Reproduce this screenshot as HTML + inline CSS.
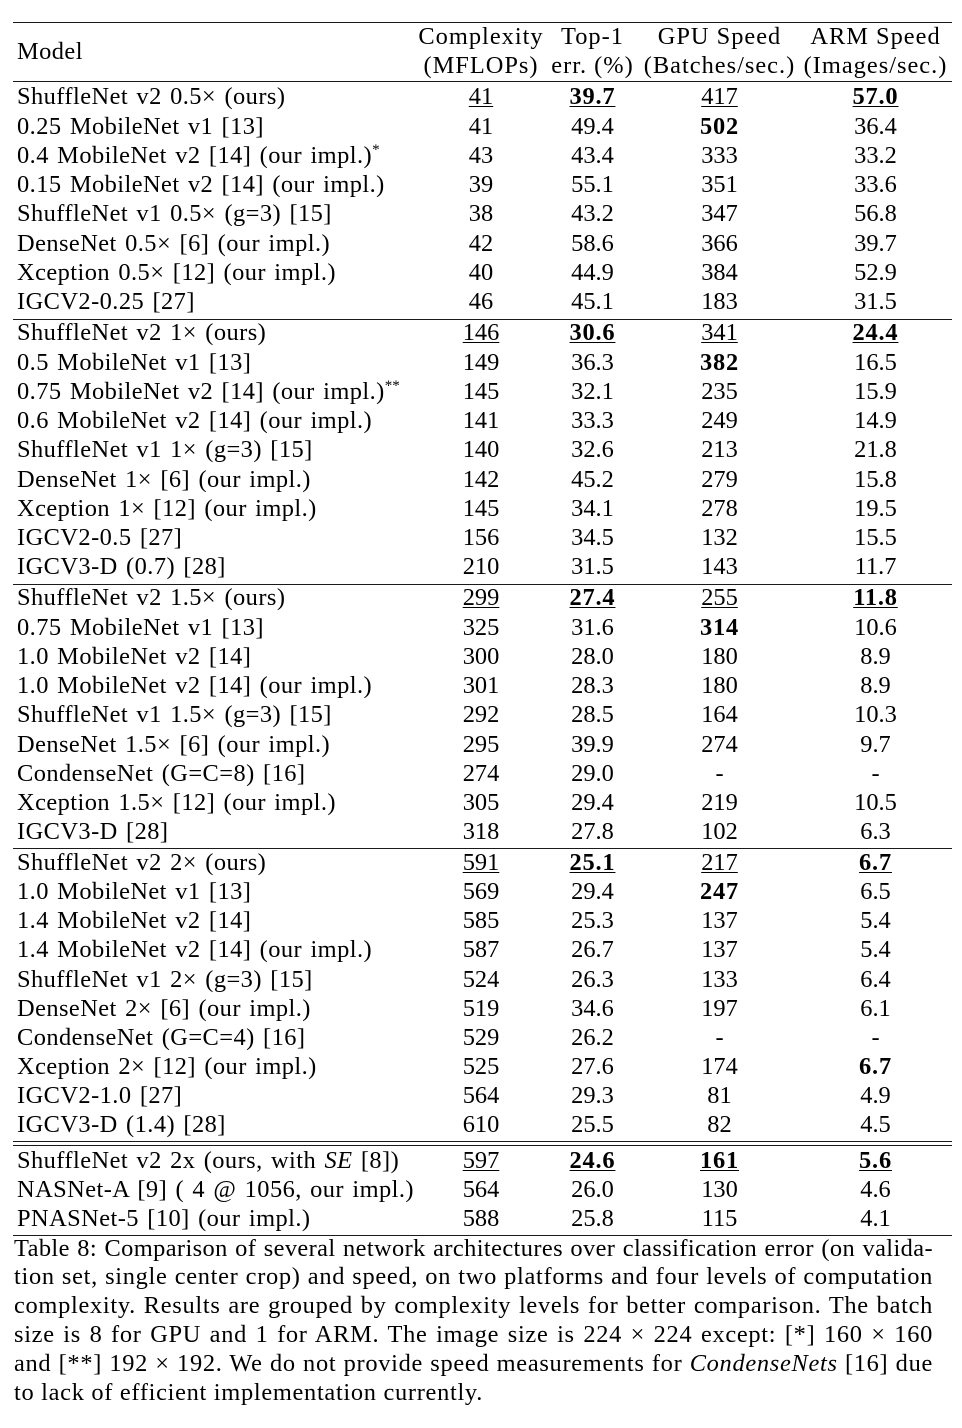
<!DOCTYPE html>
<html>
<head>
<meta charset="utf-8">
<style>
html,body{margin:0;padding:0;background:#fff;}
#p{position:relative;width:962px;height:1428px;overflow:hidden;background:#fff;color:#000;
  font-family:"Liberation Serif","DejaVu Serif",serif;font-size:24.4px;}
.rule{position:absolute;left:13px;width:939px;background:#1a1a1a;}
.r{position:absolute;left:0;width:962px;height:29.25px;line-height:29.25px;white-space:nowrap;}
.m{position:absolute;left:17px;letter-spacing:.45px;word-spacing:1.8px;}
.c{position:absolute;width:130px;text-align:center;}
.c1{left:416px}.c2{left:527.5px}.c3{left:654.5px}.c4{left:810.5px}
.h .c{letter-spacing:1px;}
.u{text-decoration:underline;text-decoration-thickness:1px;text-underline-offset:2px;}
b{font-weight:bold;letter-spacing:.8px;}
.sup{position:relative;top:-9px;font-size:15px;letter-spacing:0;}
.cap{position:absolute;left:14px;width:919px;height:28.8px;line-height:28.8px;text-align:justify;text-align-last:justify;letter-spacing:.7px;}
.last{text-align:left;text-align-last:left;word-spacing:0;}
</style>
</head>
<body>
<div id="p">
<!-- rules -->
<div class="rule" style="top:21.8px;height:1.4px"></div>
<div class="rule" style="top:81px;height:1px"></div>
<div class="rule" style="top:318.8px;height:1px"></div>
<div class="rule" style="top:584px;height:1px"></div>
<div class="rule" style="top:848px;height:1px"></div>
<div class="rule" style="top:1140.6px;height:1px"></div>
<div class="rule" style="top:1144.8px;height:1px"></div>
<div class="rule" style="top:1235px;height:1.3px"></div>

<!-- header -->
<div class="r" style="top:36.9px"><span class="m">Model</span></div>
<div class="r h" style="top:22.4px"><span class="c c1">Complexity</span><span class="c c2">Top-1</span><span class="c c3" style="width:170px;left:634.5px">GPU Speed</span><span class="c c4" style="width:170px;left:790.5px">ARM Speed</span></div>
<div class="r h" style="top:51.4px"><span class="c c1">(MFLOPs)</span><span class="c c2">err. (%)</span><span class="c c3" style="width:170px;left:634.5px">(Batches/sec.)</span><span class="c c4" style="width:170px;left:790.5px">(Images/sec.)</span></div>

<!-- group 1 -->
<div class="r" style="top:82.4px"><span class="m">ShuffleNet v2 0.5× (ours)</span><span class="c c1"><span class="u">41</span></span><span class="c c2"><b class="u">39.7</b></span><span class="c c3"><span class="u">417</span></span><span class="c c4"><b class="u">57.0</b></span></div>
<div class="r" style="top:111.6px"><span class="m">0.25 MobileNet v1 [13]</span><span class="c c1">41</span><span class="c c2">49.4</span><span class="c c3"><b>502</b></span><span class="c c4">36.4</span></div>
<div class="r" style="top:140.9px"><span class="m">0.4 MobileNet v2 [14] (our impl.)<span class="sup">*</span></span><span class="c c1">43</span><span class="c c2">43.4</span><span class="c c3">333</span><span class="c c4">33.2</span></div>
<div class="r" style="top:170.1px"><span class="m">0.15 MobileNet v2 [14] (our impl.)</span><span class="c c1">39</span><span class="c c2">55.1</span><span class="c c3">351</span><span class="c c4">33.6</span></div>
<div class="r" style="top:199.4px"><span class="m">ShuffleNet v1 0.5× (g=3) [15]</span><span class="c c1">38</span><span class="c c2">43.2</span><span class="c c3">347</span><span class="c c4">56.8</span></div>
<div class="r" style="top:228.6px"><span class="m">DenseNet 0.5× [6] (our impl.)</span><span class="c c1">42</span><span class="c c2">58.6</span><span class="c c3">366</span><span class="c c4">39.7</span></div>
<div class="r" style="top:257.9px"><span class="m">Xception 0.5× [12] (our impl.)</span><span class="c c1">40</span><span class="c c2">44.9</span><span class="c c3">384</span><span class="c c4">52.9</span></div>
<div class="r" style="top:287.1px"><span class="m">IGCV2-0.25 [27]</span><span class="c c1">46</span><span class="c c2">45.1</span><span class="c c3">183</span><span class="c c4">31.5</span></div>

<!-- group 2 -->
<div class="r" style="top:318.4px"><span class="m">ShuffleNet v2 1× (ours)</span><span class="c c1"><span class="u">146</span></span><span class="c c2"><b class="u">30.6</b></span><span class="c c3"><span class="u">341</span></span><span class="c c4"><b class="u">24.4</b></span></div>
<div class="r" style="top:347.6px"><span class="m">0.5 MobileNet v1 [13]</span><span class="c c1">149</span><span class="c c2">36.3</span><span class="c c3"><b>382</b></span><span class="c c4">16.5</span></div>
<div class="r" style="top:376.9px"><span class="m">0.75 MobileNet v2 [14] (our impl.)<span class="sup">**</span></span><span class="c c1">145</span><span class="c c2">32.1</span><span class="c c3">235</span><span class="c c4">15.9</span></div>
<div class="r" style="top:406.1px"><span class="m">0.6 MobileNet v2 [14] (our impl.)</span><span class="c c1">141</span><span class="c c2">33.3</span><span class="c c3">249</span><span class="c c4">14.9</span></div>
<div class="r" style="top:435.4px"><span class="m">ShuffleNet v1 1× (g=3) [15]</span><span class="c c1">140</span><span class="c c2">32.6</span><span class="c c3">213</span><span class="c c4">21.8</span></div>
<div class="r" style="top:464.6px"><span class="m">DenseNet 1× [6] (our impl.)</span><span class="c c1">142</span><span class="c c2">45.2</span><span class="c c3">279</span><span class="c c4">15.8</span></div>
<div class="r" style="top:493.9px"><span class="m">Xception 1× [12] (our impl.)</span><span class="c c1">145</span><span class="c c2">34.1</span><span class="c c3">278</span><span class="c c4">19.5</span></div>
<div class="r" style="top:523.1px"><span class="m">IGCV2-0.5 [27]</span><span class="c c1">156</span><span class="c c2">34.5</span><span class="c c3">132</span><span class="c c4">15.5</span></div>
<div class="r" style="top:552.4px"><span class="m">IGCV3-D (0.7) [28]</span><span class="c c1">210</span><span class="c c2">31.5</span><span class="c c3">143</span><span class="c c4">11.7</span></div>

<!-- group 3 -->
<div class="r" style="top:583.4px"><span class="m">ShuffleNet v2 1.5× (ours)</span><span class="c c1"><span class="u">299</span></span><span class="c c2"><b class="u">27.4</b></span><span class="c c3"><span class="u">255</span></span><span class="c c4"><b class="u">11.8</b></span></div>
<div class="r" style="top:612.6px"><span class="m">0.75 MobileNet v1 [13]</span><span class="c c1">325</span><span class="c c2">31.6</span><span class="c c3"><b>314</b></span><span class="c c4">10.6</span></div>
<div class="r" style="top:641.9px"><span class="m">1.0 MobileNet v2 [14]</span><span class="c c1">300</span><span class="c c2">28.0</span><span class="c c3">180</span><span class="c c4">8.9</span></div>
<div class="r" style="top:671.1px"><span class="m">1.0 MobileNet v2 [14] (our impl.)</span><span class="c c1">301</span><span class="c c2">28.3</span><span class="c c3">180</span><span class="c c4">8.9</span></div>
<div class="r" style="top:700.4px"><span class="m">ShuffleNet v1 1.5× (g=3) [15]</span><span class="c c1">292</span><span class="c c2">28.5</span><span class="c c3">164</span><span class="c c4">10.3</span></div>
<div class="r" style="top:729.6px"><span class="m">DenseNet 1.5× [6] (our impl.)</span><span class="c c1">295</span><span class="c c2">39.9</span><span class="c c3">274</span><span class="c c4">9.7</span></div>
<div class="r" style="top:758.9px"><span class="m">CondenseNet (G=C=8) [16]</span><span class="c c1">274</span><span class="c c2">29.0</span><span class="c c3">-</span><span class="c c4">-</span></div>
<div class="r" style="top:788.1px"><span class="m">Xception 1.5× [12] (our impl.)</span><span class="c c1">305</span><span class="c c2">29.4</span><span class="c c3">219</span><span class="c c4">10.5</span></div>
<div class="r" style="top:817.4px"><span class="m">IGCV3-D [28]</span><span class="c c1">318</span><span class="c c2">27.8</span><span class="c c3">102</span><span class="c c4">6.3</span></div>

<!-- group 4 -->
<div class="r" style="top:847.9px"><span class="m">ShuffleNet v2 2× (ours)</span><span class="c c1"><span class="u">591</span></span><span class="c c2"><b class="u">25.1</b></span><span class="c c3"><span class="u">217</span></span><span class="c c4"><b class="u">6.7</b></span></div>
<div class="r" style="top:877.0px"><span class="m">1.0 MobileNet v1 [13]</span><span class="c c1">569</span><span class="c c2">29.4</span><span class="c c3"><b>247</b></span><span class="c c4">6.5</span></div>
<div class="r" style="top:906.2px"><span class="m">1.4 MobileNet v2 [14]</span><span class="c c1">585</span><span class="c c2">25.3</span><span class="c c3">137</span><span class="c c4">5.4</span></div>
<div class="r" style="top:935.3px"><span class="m">1.4 MobileNet v2 [14] (our impl.)</span><span class="c c1">587</span><span class="c c2">26.7</span><span class="c c3">137</span><span class="c c4">5.4</span></div>
<div class="r" style="top:964.5px"><span class="m">ShuffleNet v1 2× (g=3) [15]</span><span class="c c1">524</span><span class="c c2">26.3</span><span class="c c3">133</span><span class="c c4">6.4</span></div>
<div class="r" style="top:993.6px"><span class="m">DenseNet 2× [6] (our impl.)</span><span class="c c1">519</span><span class="c c2">34.6</span><span class="c c3">197</span><span class="c c4">6.1</span></div>
<div class="r" style="top:1022.8px"><span class="m">CondenseNet (G=C=4) [16]</span><span class="c c1">529</span><span class="c c2">26.2</span><span class="c c3">-</span><span class="c c4">-</span></div>
<div class="r" style="top:1051.9px"><span class="m">Xception 2× [12] (our impl.)</span><span class="c c1">525</span><span class="c c2">27.6</span><span class="c c3">174</span><span class="c c4"><b>6.7</b></span></div>
<div class="r" style="top:1081.1px"><span class="m">IGCV2-1.0 [27]</span><span class="c c1">564</span><span class="c c2">29.3</span><span class="c c3">81</span><span class="c c4">4.9</span></div>
<div class="r" style="top:1110.2px"><span class="m">IGCV3-D (1.4) [28]</span><span class="c c1">610</span><span class="c c2">25.5</span><span class="c c3">82</span><span class="c c4">4.5</span></div>

<!-- group 5 -->
<div class="r" style="top:1145.9px"><span class="m">ShuffleNet v2 2x (ours, with <i>SE</i> [8])</span><span class="c c1"><span class="u">597</span></span><span class="c c2"><b class="u">24.6</b></span><span class="c c3"><b class="u">161</b></span><span class="c c4"><b class="u">5.6</b></span></div>
<div class="r" style="top:1175.1px"><span class="m">NASNet-A [9] ( 4 @ 1056, our impl.)</span><span class="c c1">564</span><span class="c c2">26.0</span><span class="c c3">130</span><span class="c c4">4.6</span></div>
<div class="r" style="top:1204.4px"><span class="m">PNASNet-5 [10] (our impl.)</span><span class="c c1">588</span><span class="c c2">25.8</span><span class="c c3">115</span><span class="c c4">4.1</span></div>

<!-- caption -->
<div class="cap" style="top:1234.6px;letter-spacing:.4px">Table 8: Comparison of several network architectures over classification error (on valida-</div>
<div class="cap" style="top:1263.4px">tion set, single center crop) and speed, on two platforms and four levels of computation</div>
<div class="cap" style="top:1292.2px">complexity. Results are grouped by complexity levels for better comparison. The batch</div>
<div class="cap" style="top:1321.0px">size is 8 for GPU and 1 for ARM. The image size is 224 × 224 except: [*] 160 × 160</div>
<div class="cap" style="top:1349.8px">and [**] 192 × 192. We do not provide speed measurements for <i>CondenseNets</i> [16] due</div>
<div class="cap last" style="top:1378.6px">to lack of efficient implementation currently.</div>
</div>
</body>
</html>
